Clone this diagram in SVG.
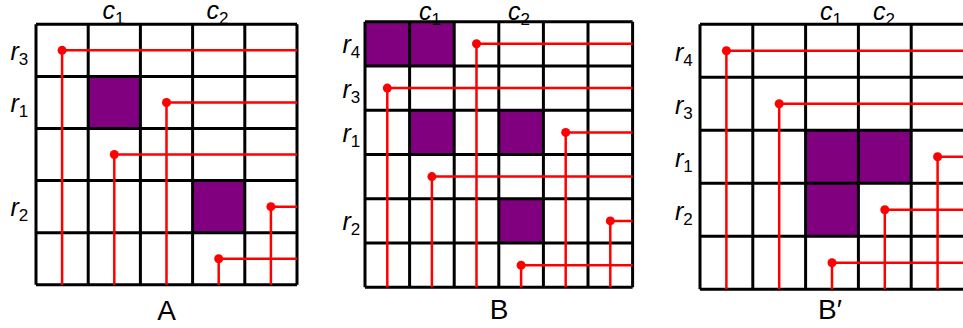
<svg xmlns="http://www.w3.org/2000/svg" width="963" height="328" viewBox="0 0 963 328">
<style>
.bg{fill:#ffffff}
.fill{fill:#800080}
.grid{fill:none;stroke:#000;stroke-width:3}
.wire{fill:none;stroke:#ff0000;stroke-width:2.5}
.dot{fill:#ff0000}
.lbl{font-family:"Liberation Sans",Arial,sans-serif;font-style:italic;font-size:25px;fill:#000}
.sub{font-style:normal;font-size:17px}
.title{font-family:"Liberation Sans",Arial,sans-serif;font-size:28px;fill:#000;text-anchor:middle}
</style>
<rect class="bg" x="0" y="0" width="963" height="328"/>

<g id="panelA">
  <rect class="fill" x="88.2" y="76.4" width="52.2" height="52.1"/>
  <rect class="fill" x="192.6" y="180.6" width="52.2" height="52.1"/>
  <path class="grid" d="M36,24.3H297M36,76.4H297M36,128.5H297M36,180.6H297M36,232.7H297M36,284.8H297M36,24.3V284.8M88.2,24.3V284.8M140.4,24.3V284.8M192.6,24.3V284.8M244.8,24.3V284.8M297,24.3V284.8"/>
  <text class="lbl" x="102.5" y="18.5">c<tspan class="sub" dy="5">1</tspan></text>
  <text class="lbl" x="206.5" y="18.5">c<tspan class="sub" dy="5">2</tspan></text>
  <text class="lbl" x="10.5" y="60">r<tspan class="sub" dy="5">3</tspan></text>
  <text class="lbl" x="10.5" y="112">r<tspan class="sub" dy="5">1</tspan></text>
  <text class="lbl" x="10.5" y="216">r<tspan class="sub" dy="5">2</tspan></text>
  <text class="title" x="166.5" y="320">A</text>
</g>

<g id="panelB">
  <rect class="fill" x="365" y="21.7" width="44.6" height="44.27"/>
  <rect class="fill" x="409.6" y="21.7" width="44.6" height="44.27"/>
  <rect class="fill" x="409.6" y="110.24" width="44.6" height="44.27"/>
  <rect class="fill" x="498.8" y="110.24" width="44.6" height="44.27"/>
  <rect class="fill" x="498.8" y="198.78" width="44.6" height="44.27"/>
  <path class="grid" d="M365,21.7H632.6M365,65.97H632.6M365,110.24H632.6M365,154.51H632.6M365,198.78H632.6M365,243.05H632.6M365,287.32H632.6M365,21.7V287.32M409.6,21.7V287.32M454.2,21.7V287.32M498.8,21.7V287.32M543.4,21.7V287.32M588,21.7V287.32M632.6,21.7V287.32"/>
  <text class="lbl" x="419" y="20">c<tspan class="sub" dy="5">1</tspan></text>
  <text class="lbl" x="508" y="20">c<tspan class="sub" dy="5">2</tspan></text>
  <text class="lbl" x="342.5" y="53">r<tspan class="sub" dy="5">4</tspan></text>
  <text class="lbl" x="342.5" y="97.5">r<tspan class="sub" dy="5">3</tspan></text>
  <text class="lbl" x="342.5" y="141.5">r<tspan class="sub" dy="5">1</tspan></text>
  <text class="lbl" x="342.5" y="230">r<tspan class="sub" dy="5">2</tspan></text>
  <text class="title" x="499" y="318.5">B</text>
</g>

<g id="panelBprime">
  <rect class="fill" x="805.6" y="130.3" width="52.8" height="53"/>
  <rect class="fill" x="858.4" y="130.3" width="52.8" height="53"/>
  <rect class="fill" x="805.6" y="183.3" width="52.8" height="53"/>
  <path class="grid" d="M700,24.3H966M700,77.3H966M700,130.3H966M700,183.3H966M700,236.3H966M700,289.3H966M700,24.3V289.3M752.8,24.3V289.3M805.6,24.3V289.3M858.4,24.3V289.3M911.2,24.3V289.3"/>
  <text class="lbl" x="820" y="19.5">c<tspan class="sub" dy="5">1</tspan></text>
  <text class="lbl" x="873" y="19.5">c<tspan class="sub" dy="5">2</tspan></text>
  <text class="lbl" x="675" y="61">r<tspan class="sub" dy="5">4</tspan></text>
  <text class="lbl" x="675" y="113.5">r<tspan class="sub" dy="5">3</tspan></text>
  <text class="lbl" x="675" y="167">r<tspan class="sub" dy="5">1</tspan></text>
  <text class="lbl" x="675" y="220">r<tspan class="sub" dy="5">2</tspan></text>
  <text class="title" x="830" y="318.5">B′</text>
</g>

<g id="connectors">
  <path class="wire" d="M297,50.35H62.1V284.8"/>
  <path class="wire" d="M297,102.45H166.5V284.8"/>
  <path class="wire" d="M297,154.55H114.3V284.8"/>
  <path class="wire" d="M297,206.65H270.9V284.8"/>
  <path class="wire" d="M297,258.75H218.7V284.8"/>
  <circle class="dot" cx="62.1" cy="50.35" r="4.5"/>
  <circle class="dot" cx="166.5" cy="102.45" r="4.5"/>
  <circle class="dot" cx="114.3" cy="154.55" r="4.5"/>
  <circle class="dot" cx="270.9" cy="206.65" r="4.5"/>
  <circle class="dot" cx="218.7" cy="258.75" r="4.5"/>

  <path class="wire" d="M632.6,43.8H476.5V287.32"/>
  <path class="wire" d="M632.6,88.1H387.3V287.32"/>
  <path class="wire" d="M632.6,132.4H565.7V287.32"/>
  <path class="wire" d="M632.6,176.6H431.9V287.32"/>
  <path class="wire" d="M632.6,220.9H610.3V287.32"/>
  <path class="wire" d="M632.6,265.2H521.1V287.32"/>
  <circle class="dot" cx="476.5" cy="43.8" r="4.5"/>
  <circle class="dot" cx="387.3" cy="88.1" r="4.5"/>
  <circle class="dot" cx="565.7" cy="132.4" r="4.5"/>
  <circle class="dot" cx="431.9" cy="176.6" r="4.5"/>
  <circle class="dot" cx="610.3" cy="220.9" r="4.5"/>
  <circle class="dot" cx="521.1" cy="265.2" r="4.5"/>

  <path class="wire" d="M966,50.8H726.4V289.3"/>
  <path class="wire" d="M966,103.8H779.2V289.3"/>
  <path class="wire" d="M966,156.8H937.6V289.3"/>
  <path class="wire" d="M966,209.8H884.8V289.3"/>
  <path class="wire" d="M966,262.8H832V289.3"/>
  <circle class="dot" cx="726.4" cy="50.8" r="4.5"/>
  <circle class="dot" cx="779.2" cy="103.8" r="4.5"/>
  <circle class="dot" cx="937.6" cy="156.8" r="4.5"/>
  <circle class="dot" cx="884.8" cy="209.8" r="4.5"/>
  <circle class="dot" cx="832" cy="262.8" r="4.5"/>
</g>
</svg>
